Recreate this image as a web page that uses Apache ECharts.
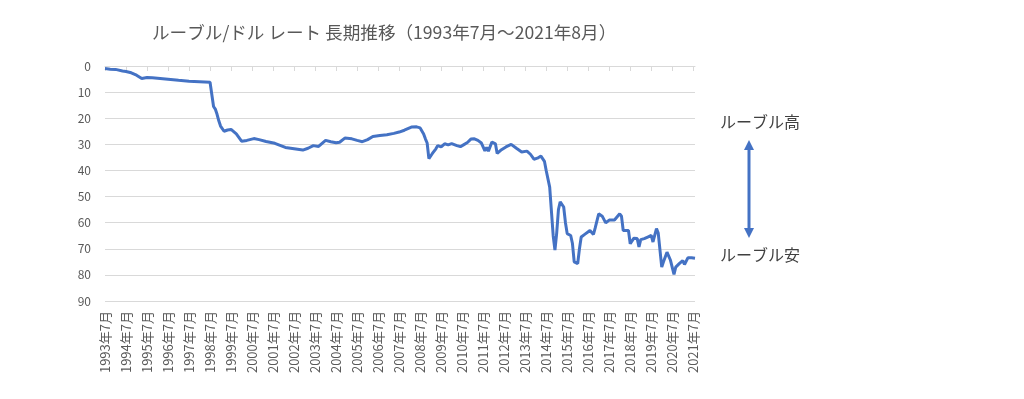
<!DOCTYPE html>
<html>
<head>
<meta charset="utf-8">
<script src="https://cdn.jsdelivr.net/npm/echarts@6/dist/echarts.min.js"></script>
<style>
html,body{margin:0;padding:0;background:#fff;}
#chart{width:1024px;height:399px;}
</style>
</head>
<body>
<div id="chart"></div>
<script>
// Category range (monthly) and tick labels
const startYear = 1993, startMonth = 7, endYear = 2021, endMonth = 8;

const dates = [
 '1993年7月','1993年10月','1994年1月','1994年5月','1994年7月','1994年10月','1995年1月','1995年4月','1995年5月','1995年7月',
 '1995年10月','1996年1月','1996年7月','1997年1月','1997年7月','1998年1月','1998年7月','1998年8月','1998年9月','1998年10月',
 '1998年11月','1998年12月','1999年1月','1999年3月','1999年5月','1999年7月','1999年10月','2000年1月','2000年4月','2000年8月',
 '2000年11月','2001年3月','2001年8月','2002年2月','2002年9月','2002年12月','2003年3月','2003年6月','2003年9月','2004年1月',
 '2004年4月','2004年7月','2004年9月','2004年12月','2005年4月','2005年7月','2005年10月','2006年1月','2006年4月','2006年8月',
 '2006年12月','2007年4月','2007年7月','2007年10月','2008年2月','2008年5月','2008年7月','2008年9月','2008年10月','2008年11月',
 '2008年12月','2009年1月','2009年2月','2009年4月','2009年5月','2009年7月','2009年9月','2009年11月','2010年1月','2010年2月',
 '2010年4月','2010年6月','2010年8月','2010年10月','2010年12月','2011年2月','2011年4月','2011年6月','2011年8月','2011年9月',
 '2011年10月','2011年12月','2012年2月','2012年3月','2012年5月','2012年8月','2012年11月','2013年2月','2013年5月','2013年8月',
 '2013年10月','2013年12月','2014年2月','2014年4月','2014年6月','2014年7月','2014年9月','2014年11月','2014年12月','2015年1月',
 '2015年2月','2015年3月','2015年5月','2015年6月','2015年7月','2015年9月','2015年10月','2015年11月','2016年1月','2016年2月',
 '2016年3月','2016年5月','2016年6月','2016年8月','2016年10月','2016年11月','2017年1月','2017年3月','2017年5月','2017年7月',
 '2017年8月','2017年10月','2018年1月','2018年2月','2018年3月','2018年6月','2018年7月','2018年9月','2018年11月','2018年12月',
 '2019年1月','2019年3月','2019年5月','2019年7月','2019年8月','2019年10月','2019年11月','2020年1月','2020年2月','2020年4月',
 '2020年6月','2020年8月','2020年9月','2020年11月','2021年1月','2021年2月','2021年4月','2021年6月','2021年8月'
];
const rates = [
 1.0,1.2,1.3,1.9,2.1,2.6,3.5,4.8,5.1,4.4,
 4.5,4.7,5.1,5.5,5.8,6.0,6.2,6.5,15.5,16.5,
 18.5,21.0,23.0,25.0,24.5,24.3,26.0,28.8,28.5,27.8,
 28.2,28.9,29.6,31.2,31.9,32.2,31.5,30.5,30.8,28.5,
 29.0,29.4,29.2,27.6,27.9,28.5,29.0,28.2,27.0,26.6,
 26.3,25.8,25.3,24.6,23.4,23.3,23.7,26.0,27.9,29.5,
 35.5,35.9,33.5,31.7,30.5,31.0,29.8,30.2,29.7,30.2,
 30.5,30.9,30.1,29.3,28.0,27.9,28.5,29.5,32.5,31.2,
 32.6,29.1,29.8,33.5,32.3,31.0,30.0,31.5,32.9,32.6,
 33.8,35.7,35.3,34.5,36.5,40.0,46.4,65.0,70.5,64.0,
 55.0,52.0,54.0,60.0,64.2,64.9,68.0,75.0,75.7,70.0,
 65.5,64.5,65.0,63.0,64.5,62.0,56.6,57.5,60.1,59.0,
 58.5,59.0,56.6,57.5,63.0,63.0,68.1,66.0,66.1,69.3,
 66.5,66.1,65.5,64.9,67.4,62.3,64.0,77.0,75.0,71.3,
 74.4,79.8,77.0,75.7,74.5,76.0,73.4,73.4,73.6
];

// Y axis ticks
const yMin = 0, yMax = 90, yStep = 10;

const categories = [];
for (let y = startYear, m = startMonth; y < endYear || (y === endYear && m <= endMonth); ) {
  categories.push(y + '年' + m + '月');
  m++; if (m > 12) { m = 1; y++; }
}
const seriesData = dates.map((d, i) => [d, rates[i]]);

const chart = echarts.init(document.getElementById('chart'), null, {renderer: 'canvas'});
const FONT = '"Noto Sans CJK JP", "Noto Sans", sans-serif';
chart.setOption({
  animation: false,
  backgroundColor: '#ffffff',
  title: {
    text: 'ルーブル/ドル レート 長期推移（1993年7月～2021年8月）',
    left: 147, top: 19,
    textStyle: {fontSize: 17.6, fontWeight: 'normal', color: '#595959', fontFamily: FONT}
  },
  grid: {left: 105, right: 329, top: 66, bottom: 98, containLabel: false},
  xAxis: {
    type: 'category',
    data: categories,
    boundaryGap: false,
    axisLine: {lineStyle: {color: '#d9d9d9', width: 1}},
    axisTick: {show: true, interval: 11, length: 5, lineStyle: {color: '#d9d9d9'}},
    axisLabel: {interval: 11, rotate: 90, fontSize: 13, color: '#595959', margin: 10, fontFamily: FONT},
    splitLine: {show: false}
  },
  yAxis: {
    type: 'value',
    inverse: true,
    min: yMin, max: yMax, interval: yStep,
    axisLine: {show: false},
    axisTick: {show: false},
    axisLabel: {fontSize: 12, color: '#595959', margin: 14, fontFamily: FONT},
    splitLine: {lineStyle: {color: '#d9d9d9', width: 1}}
  },
  series: [{
    type: 'line',
    data: seriesData,
    showSymbol: false,
    symbol: 'none',
    lineStyle: {color: '#4472C4', width: 3},
    itemStyle: {color: '#4472C4'}
  }],
  graphic: [
    {type: 'text', left: 720, top: 114, style: {text: 'ルーブル高', fontSize: 16, fill: '#404040', fontFamily: FONT}},
    {type: 'text', left: 720, top: 247, style: {text: 'ルーブル安', fontSize: 16, fill: '#404040', fontFamily: FONT}},
    {type: 'line', shape: {x1: 749, y1: 148, x2: 749, y2: 230}, style: {stroke: '#4472C4', lineWidth: 3}},
    {type: 'polygon', shape: {points: [[749, 140], [744, 150], [754, 150]]}, style: {fill: '#4472C4'}},
    {type: 'polygon', shape: {points: [[749, 238], [744, 228], [754, 228]]}, style: {fill: '#4472C4'}}
  ]
});
</script>
</body>
</html>
